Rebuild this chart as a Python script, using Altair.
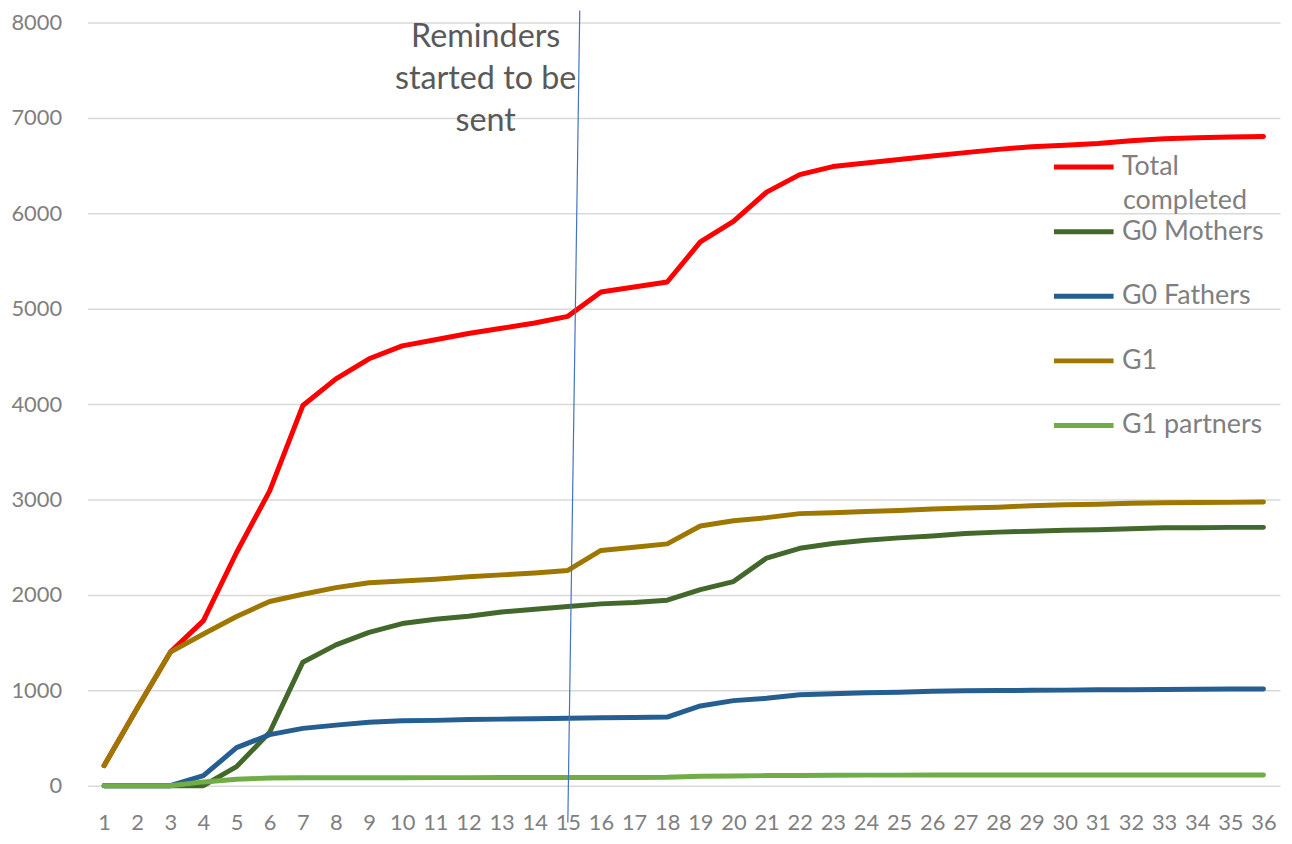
import altair as alt
import pandas as pd

weeks = list(range(1, 37))
total = [210, 812, 1400, 1730, 2445, 3090, 3985, 4265, 4475, 4610, 4675, 4740, 4795, 4850, 4920,
         5175, 5228, 5280, 5700, 5915, 6222, 6405, 6490, 6527, 6565, 6600, 6636, 6670, 6698, 6713,
         6732, 6760, 6781, 6791, 6800, 6806]
mothers = [0, 0, 0, 0, 200, 560, 1295, 1476, 1608, 1700, 1744, 1777, 1820, 1850, 1879, 1906, 1920,
           1945, 2056, 2140, 2386, 2489, 2539, 2573, 2598, 2618, 2643, 2658, 2668, 2678, 2683, 2693,
           2703, 2705, 2708, 2708]
fathers = [0, 0, 0, 105, 399, 535, 601, 635, 665, 680, 685, 693, 698, 703, 708, 713, 716, 720, 836,
           892, 916, 953, 965, 975, 980, 990, 995, 997, 1000, 1002, 1005, 1007, 1009, 1012, 1013, 1013]
g1 = [210, 812, 1400, 1590, 1774, 1931, 2007, 2076, 2128, 2146, 2165, 2190, 2210, 2230, 2256, 2466,
      2500, 2535, 2722, 2777, 2810, 2852, 2862, 2875, 2885, 2900, 2910, 2920, 2935, 2945, 2950, 2960,
      2965, 2968, 2970, 2975]
partners = [0, 0, 0, 40, 68, 80, 83, 84, 84, 84, 85, 85, 86, 86, 86, 86, 87, 88, 100, 103, 106, 108,
            110, 111, 111, 112, 112, 112, 113, 113, 113, 113, 113, 113, 113, 113]

series_names = ["Total completed", "G0 Mothers", "G0 Fathers", "G1", "G1 partners"]
series_values = [total, mothers, fathers, g1, partners]
series_colors = ["#FF0000", "#43682B", "#255E91", "#9E7700", "#70AD47"]
y_ticks = list(range(0, 8001, 1000))

annotation_lines = ["Reminders", "started to be", "sent"]
annotation_x, annotation_y = 12.52, 7844
reminder_top = (15.36, 8125)
reminder_bottom = (15.0, -385)

rows = []
for name, vals in zip(series_names, series_values):
    for w, v in zip(weeks, vals):
        rows.append({"week": w, "value": v, "series": name})
df = pd.DataFrame(rows)

FONT = "Lato"
x_scale = alt.Scale(domain=[0.5, 36.5], nice=False, zero=False)
y_scale = alt.Scale(domain=[0, 8000], nice=False)
color_scale = alt.Scale(domain=series_names, range=series_colors)

x_axis = alt.Axis(values=weeks, tickCount=40, format="d", grid=False, ticks=False, domain=False,
                  labelFontSize=22, labelColor="#7f7f7f", labelPadding=27, labelFont=FONT,
                  labelFlush=False, labelOverlap=False, labelSeparation=0, title=None)
y_axis = alt.Axis(values=y_ticks, format="d", grid=True, gridColor="#d9d9d9", gridWidth=1.5,
                  ticks=False, domain=False, labelFontSize=22, labelColor="#7f7f7f",
                  labelPadding=26, labelFont=FONT, title=None)
legend = alt.Legend(
    title=None, orient="none", legendX=970, legendY=113,
    symbolType="stroke", symbolSize=3600, symbolStrokeWidth=5,
    labelFontSize=27, labelFont=FONT, labelColor="#7f7f7f",
    labelOffset=6, rowPadding=19, labelLimit=300,
    labelExpr="datum.label == 'Total completed' ? 'Total' : datum.label",
)

layers = []
for name in series_names:
    sub = df[df["series"] == name]
    layers.append(
        alt.Chart(sub).mark_line(strokeWidth=5, strokeCap="round", strokeJoin="round").encode(
            x=alt.X("week:Q", scale=x_scale, axis=x_axis),
            y=alt.Y("value:Q", scale=y_scale, axis=y_axis),
            color=alt.Color("series:N", scale=color_scale, legend=legend),
        )
    )

# second line of the wrapped legend label "Total completed"
legend_wrap = alt.Chart().mark_text(text="completed", fontSize=27, font=FONT, color="#7f7f7f",
                                    align="left", baseline="middle").encode(
    x=alt.value(1042), y=alt.value(180))

text = alt.Chart().mark_text(text=annotation_lines, fontSize=32.5, font=FONT, color="#595959",
                             lineHeight=42, align="center", baseline="middle").encode(
    x=alt.datum(annotation_x), y=alt.datum(annotation_y))

rule = alt.Chart().mark_rule(color="#4472C4", strokeWidth=1.2, clip=False).encode(
    x=alt.datum(reminder_top[0]), y=alt.datum(reminder_top[1]),
    x2=alt.datum(reminder_bottom[0]), y2=alt.datum(reminder_bottom[1]))

chart = alt.layer(*layers, legend_wrap, text, rule).properties(
    width=1200, height=768,
    padding={"left": 80, "top": 12, "right": 4, "bottom": 48},
    autosize=alt.AutoSizeParams(type="none"),
).configure(font=FONT).configure_view(stroke=None).configure_axisX(
    labelOverlap=False, labelSeparation=0)

chart.save("out.html", embed_options={"renderer": "svg", "actions": False})
